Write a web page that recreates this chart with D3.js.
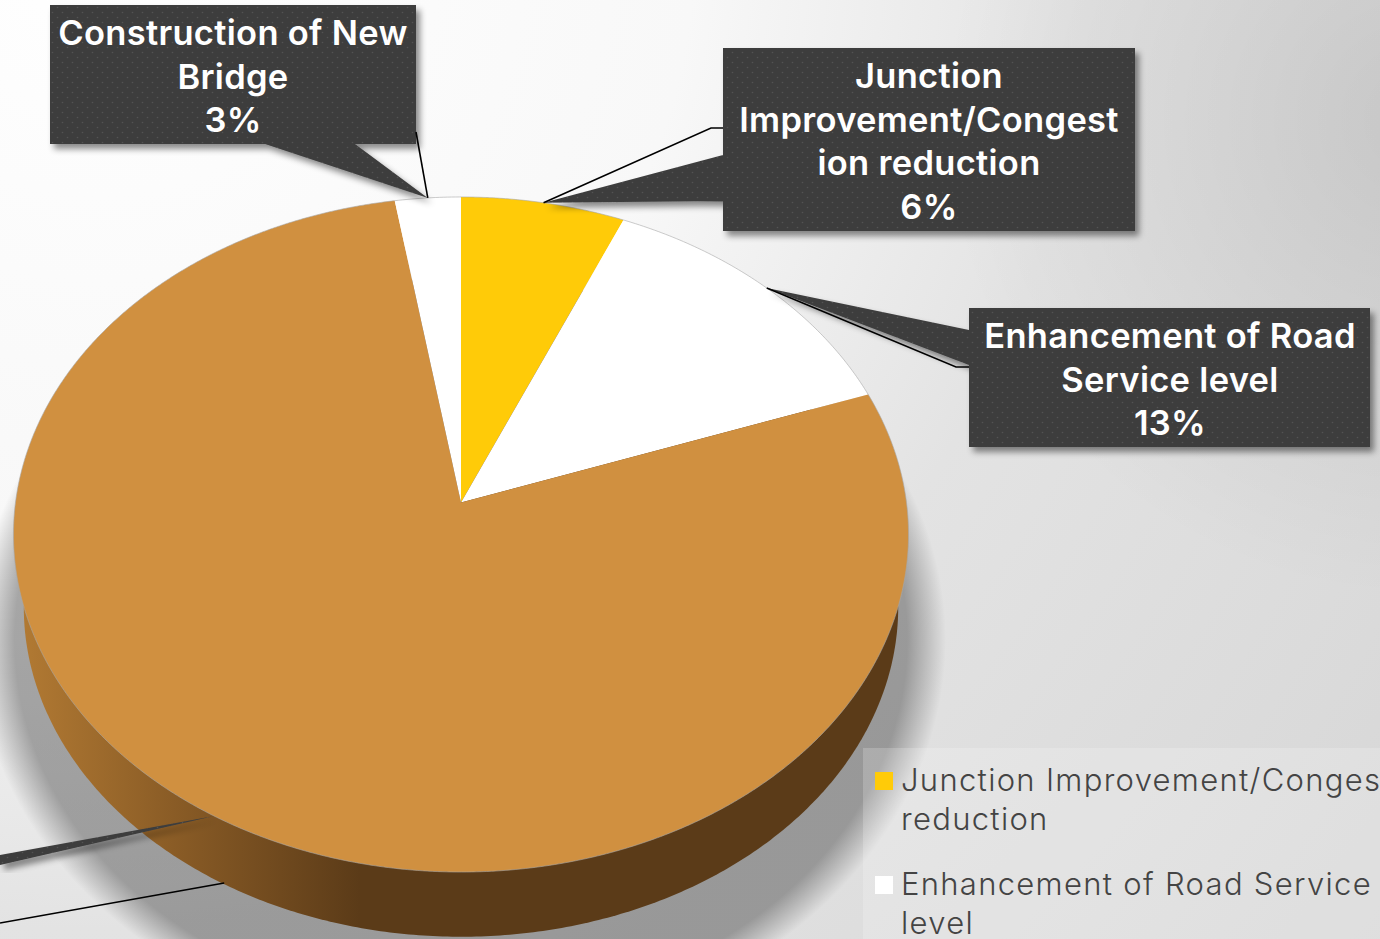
<!DOCTYPE html>
<html>
<head>
<meta charset="utf-8">
<script src="https://cdn.jsdelivr.net/npm/d3@7"></script>
<style>
  html, body { margin: 0; padding: 0; overflow: hidden; }
  svg { display: block; }
</style>
</head>
<body>
<script>
// values (the brown slice's label sits outside the crop)
const categories = ["Junction Improvement/Congestion reduction", "Enhancement of Road Service level", "", "Construction of New Bridge"];
const shares = [0.0649, 0.131, 0.7781, 0.026];
const sliceColors = ["#ffcb08", "#ffffff", "#d09040", "#ffffff"];

const labelLines = [
  ["Junction", "Improvement/Congest", "ion reduction"],
  ["Enhancement of Road", "Service level"],
  [],
  ["Construction of New", "Bridge"]
];
const legendLines = [
  ["Junction Improvement/Congestion", "reduction"],
  ["Enhancement of Road Service", "level"]
];

const width = 1380, height = 939;
const font = "Inter, 'Open Sans', sans-serif";

let viz = d3.select("body").append("svg")
  .attr("width", width)
  .attr("height", height)
  .attr("viewBox", "0 0 " + width + " " + height);

let defs = viz.append("defs");

// background
let bg = defs.append("radialGradient").attr("id", "bg")
  .attr("gradientUnits", "userSpaceOnUse")
  .attr("cx", 100).attr("cy", -60).attr("r", 1650);
bg.append("stop").attr("offset", 0).attr("stop-color", "#ffffff");
bg.append("stop").attr("offset", 0.36).attr("stop-color", "#f8f8f8");
bg.append("stop").attr("offset", 0.6).attr("stop-color", "#e3e3e3");
bg.append("stop").attr("offset", 1).attr("stop-color", "#d6d6d6");

// the top right corner is darker
let corner = defs.append("radialGradient").attr("id", "corner")
  .attr("gradientUnits", "userSpaceOnUse")
  .attr("cx", 1420).attr("cy", 120).attr("r", 480);
corner.append("stop").attr("offset", 0).attr("stop-color", "#000").attr("stop-opacity", 0.1);
corner.append("stop").attr("offset", 1).attr("stop-color", "#000").attr("stop-opacity", 0);

// shadow behind the pie
let shade = defs.append("radialGradient").attr("id", "shade");
shade.append("stop").attr("offset", 0.92).attr("stop-color", "#000").attr("stop-opacity", 0.32);
shade.append("stop").attr("offset", 1).attr("stop-color", "#000").attr("stop-opacity", 0);

// wall of the pie
let wall = defs.append("linearGradient").attr("id", "wall")
  .attr("gradientUnits", "userSpaceOnUse")
  .attr("x1", 20).attr("x2", 360).attr("y1", 0).attr("y2", 0);
wall.append("stop").attr("offset", 0).attr("stop-color", "#b27a33");
wall.append("stop").attr("offset", 0.45).attr("stop-color", "#8a5c26");
wall.append("stop").attr("offset", 1).attr("stop-color", "#5b3b18");

// dotted fill of the callouts
let dots = defs.append("pattern").attr("id", "dots")
  .attr("patternUnits", "userSpaceOnUse")
  .attr("width", 10).attr("height", 10);
dots.append("rect").attr("width", 10).attr("height", 10).attr("fill", "#3e3e3e");
dots.append("circle").attr("cx", 2.5).attr("cy", 2.5).attr("r", 0.8).attr("fill", "#535353");
dots.append("circle").attr("cx", 7.5).attr("cy", 7.5).attr("r", 0.8).attr("fill", "#535353");

defs.append("filter").attr("id", "boxShadow")
  .attr("x", "-10%").attr("y", "-10%").attr("width", "125%").attr("height", "125%")
  .append("feDropShadow")
  .attr("dx", 4).attr("dy", 5).attr("stdDeviation", 3)
  .attr("flood-color", "#000").attr("flood-opacity", 0.45);

viz.append("rect").attr("width", width).attr("height", height).attr("fill", "url(#bg)");
viz.append("rect").attr("width", width).attr("height", height).attr("fill", "url(#corner)");

// tilted pie: a point on the rim in perspective, angle clockwise from 12 o'clock
const pieX = 461, pieY = 502.5, rimA = 445.5, rimB = 334.5, persp = 0.0948;
function project(a, r) {
  let w = 1 + persp * r * Math.cos(a);
  return [pieX + rimA * r * Math.sin(a) / w, pieY - rimB * r * Math.cos(a) / w];
}
// the rim of the underside
function projectBottom(a) {
  let p = project(a, 1);
  return [pieX + 0.977 * (p[0] - pieX), 607 + 0.977 * (p[1] - 534.5)];
}

let pie = d3.pie().sort(null).value(d => d);
let slices = pie(shares);
let line = d3.line();
let fullTurn = d3.range(0, 2 * Math.PI, 0.01);

// soft shadow
viz.append("ellipse")
  .attr("cx", pieX).attr("cy", 640)
  .attr("rx", 485).attr("ry", 400)
  .attr("fill", "url(#shade)");

// wall, then top face
viz.append("path")
  .attr("d", line(fullTurn.map(projectBottom)) + "Z")
  .attr("fill", "url(#wall)");

viz.selectAll(".slice").data(slices).enter()
  .append("path")
    .attr("class", "slice")
    .attr("d", function (d) {
      let steps = d3.range(d.startAngle, d.endAngle, 0.005).concat([d.endAngle]);
      return line([[pieX, pieY]].concat(steps.map(a => project(a, 1)))) + "Z";
    })
    .attr("fill", (d, i) => sliceColors[i]);

viz.append("path")
  .attr("d", line(fullTurn.map(a => project(a, 1))) + "Z")
  .attr("fill", "none")
  .attr("stroke", "#a8a8a8")
  .attr("stroke-width", 0.6);

// callouts. box, where the tail leaves it, and where the thin leader leaves it
const calloutBoxes = [
  { x0: 723, x1: 1135, y0: 48, y1: 231, cx: 929, base: 88 },
  { x0: 969, x1: 1370, y0: 308, y1: 447, cx: 1170, base: 348 },
  null,
  { x0: 50, x1: 416, y0: 5, y1: 144, cx: 233, base: 45 }
];
const tails = [
  [[723, 155], [723, 201]],
  [[969, 330], [969, 365]],
  [[0, 855], [0, 865]],
  [[265, 144], [355, 144]]
];
const leaders = [
  [[723, 128], [711, 128]],
  [[969, 367], [956, 367]],
  [[0, 923]],
  [[416, 132]]
];

let apex = slices.map(d => project((d.startAngle + d.endAngle) / 2, 1));

let callouts = viz.selectAll(".callout").data(slices).enter()
  .append("g").attr("class", "callout");

callouts.append("path")
  .attr("d", function (d, i) {
    let b = calloutBoxes[i];
    let tail = line([tails[i][0], apex[i], tails[i][1]]);
    if (!b) return tail + "Z";
    return "M" + b.x0 + "," + b.y0 + "H" + b.x1 + "V" + b.y1 + "H" + b.x0 + "Z" + tail + "Z";
  })
  .attr("fill", "url(#dots)")
  .attr("filter", "url(#boxShadow)");

callouts.append("path")
  .attr("d", function (d, i) {
    // brown leader stops at the bottom edge of the wall
    let end = i == 2 ? [apex[i][0] + 10, apex[i][1] + 67] : apex[i];
    return line(leaders[i].concat([end]));
  })
  .attr("fill", "none")
  .attr("stroke", "#000")
  .attr("stroke-width", 1.6);

let fmt = d3.format(".0%");
calloutBoxes.forEach(function (b, i) {
  if (!b) return;
  let lines = labelLines[i].concat([fmt(shares[i])]);
  viz.append("text")
    .attr("class", "label")
    .attr("text-anchor", "middle")
    .attr("font-family", font)
    .attr("font-weight", 600)
    .attr("font-size", 34.5)
    .attr("letter-spacing", 0.3)
    .attr("fill", "#ffffff")
    .selectAll("tspan").data(lines).enter()
    .append("tspan")
      .attr("x", b.cx)
      .attr("y", (l, j) => b.base + j * 43.7)
      .text(l => l);
});

// legend, runs off the right and the bottom of the picture
viz.append("rect")
  .attr("x", 863).attr("y", 748)
  .attr("width", width - 863).attr("height", height - 748)
  .attr("fill", "#ffffff").attr("opacity", 0.2);

let legendY = d3.scaleLinear().domain([0, 1]).range([791, 895]);
let legend = viz.selectAll(".legend").data(legendLines).enter()
  .append("g").attr("class", "legend")
  .attr("transform", (d, i) => "translate(0," + legendY(i) + ")");

legend.append("rect")
  .attr("x", 875).attr("y", -19).attr("width", 18).attr("height", 18)
  .attr("fill", (d, i) => sliceColors[i]);

legend.append("text")
  .attr("font-family", font)
  .attr("font-weight", 300)
  .attr("font-size", 31)
  .attr("letter-spacing", 1.3)
  .attr("fill", "#444444")
  .selectAll("tspan").data(d => d).enter()
  .append("tspan")
    .attr("x", 901)
    .attr("y", (l, j) => j * 39)
    .text(l => l);
</script>
</body>
</html>
